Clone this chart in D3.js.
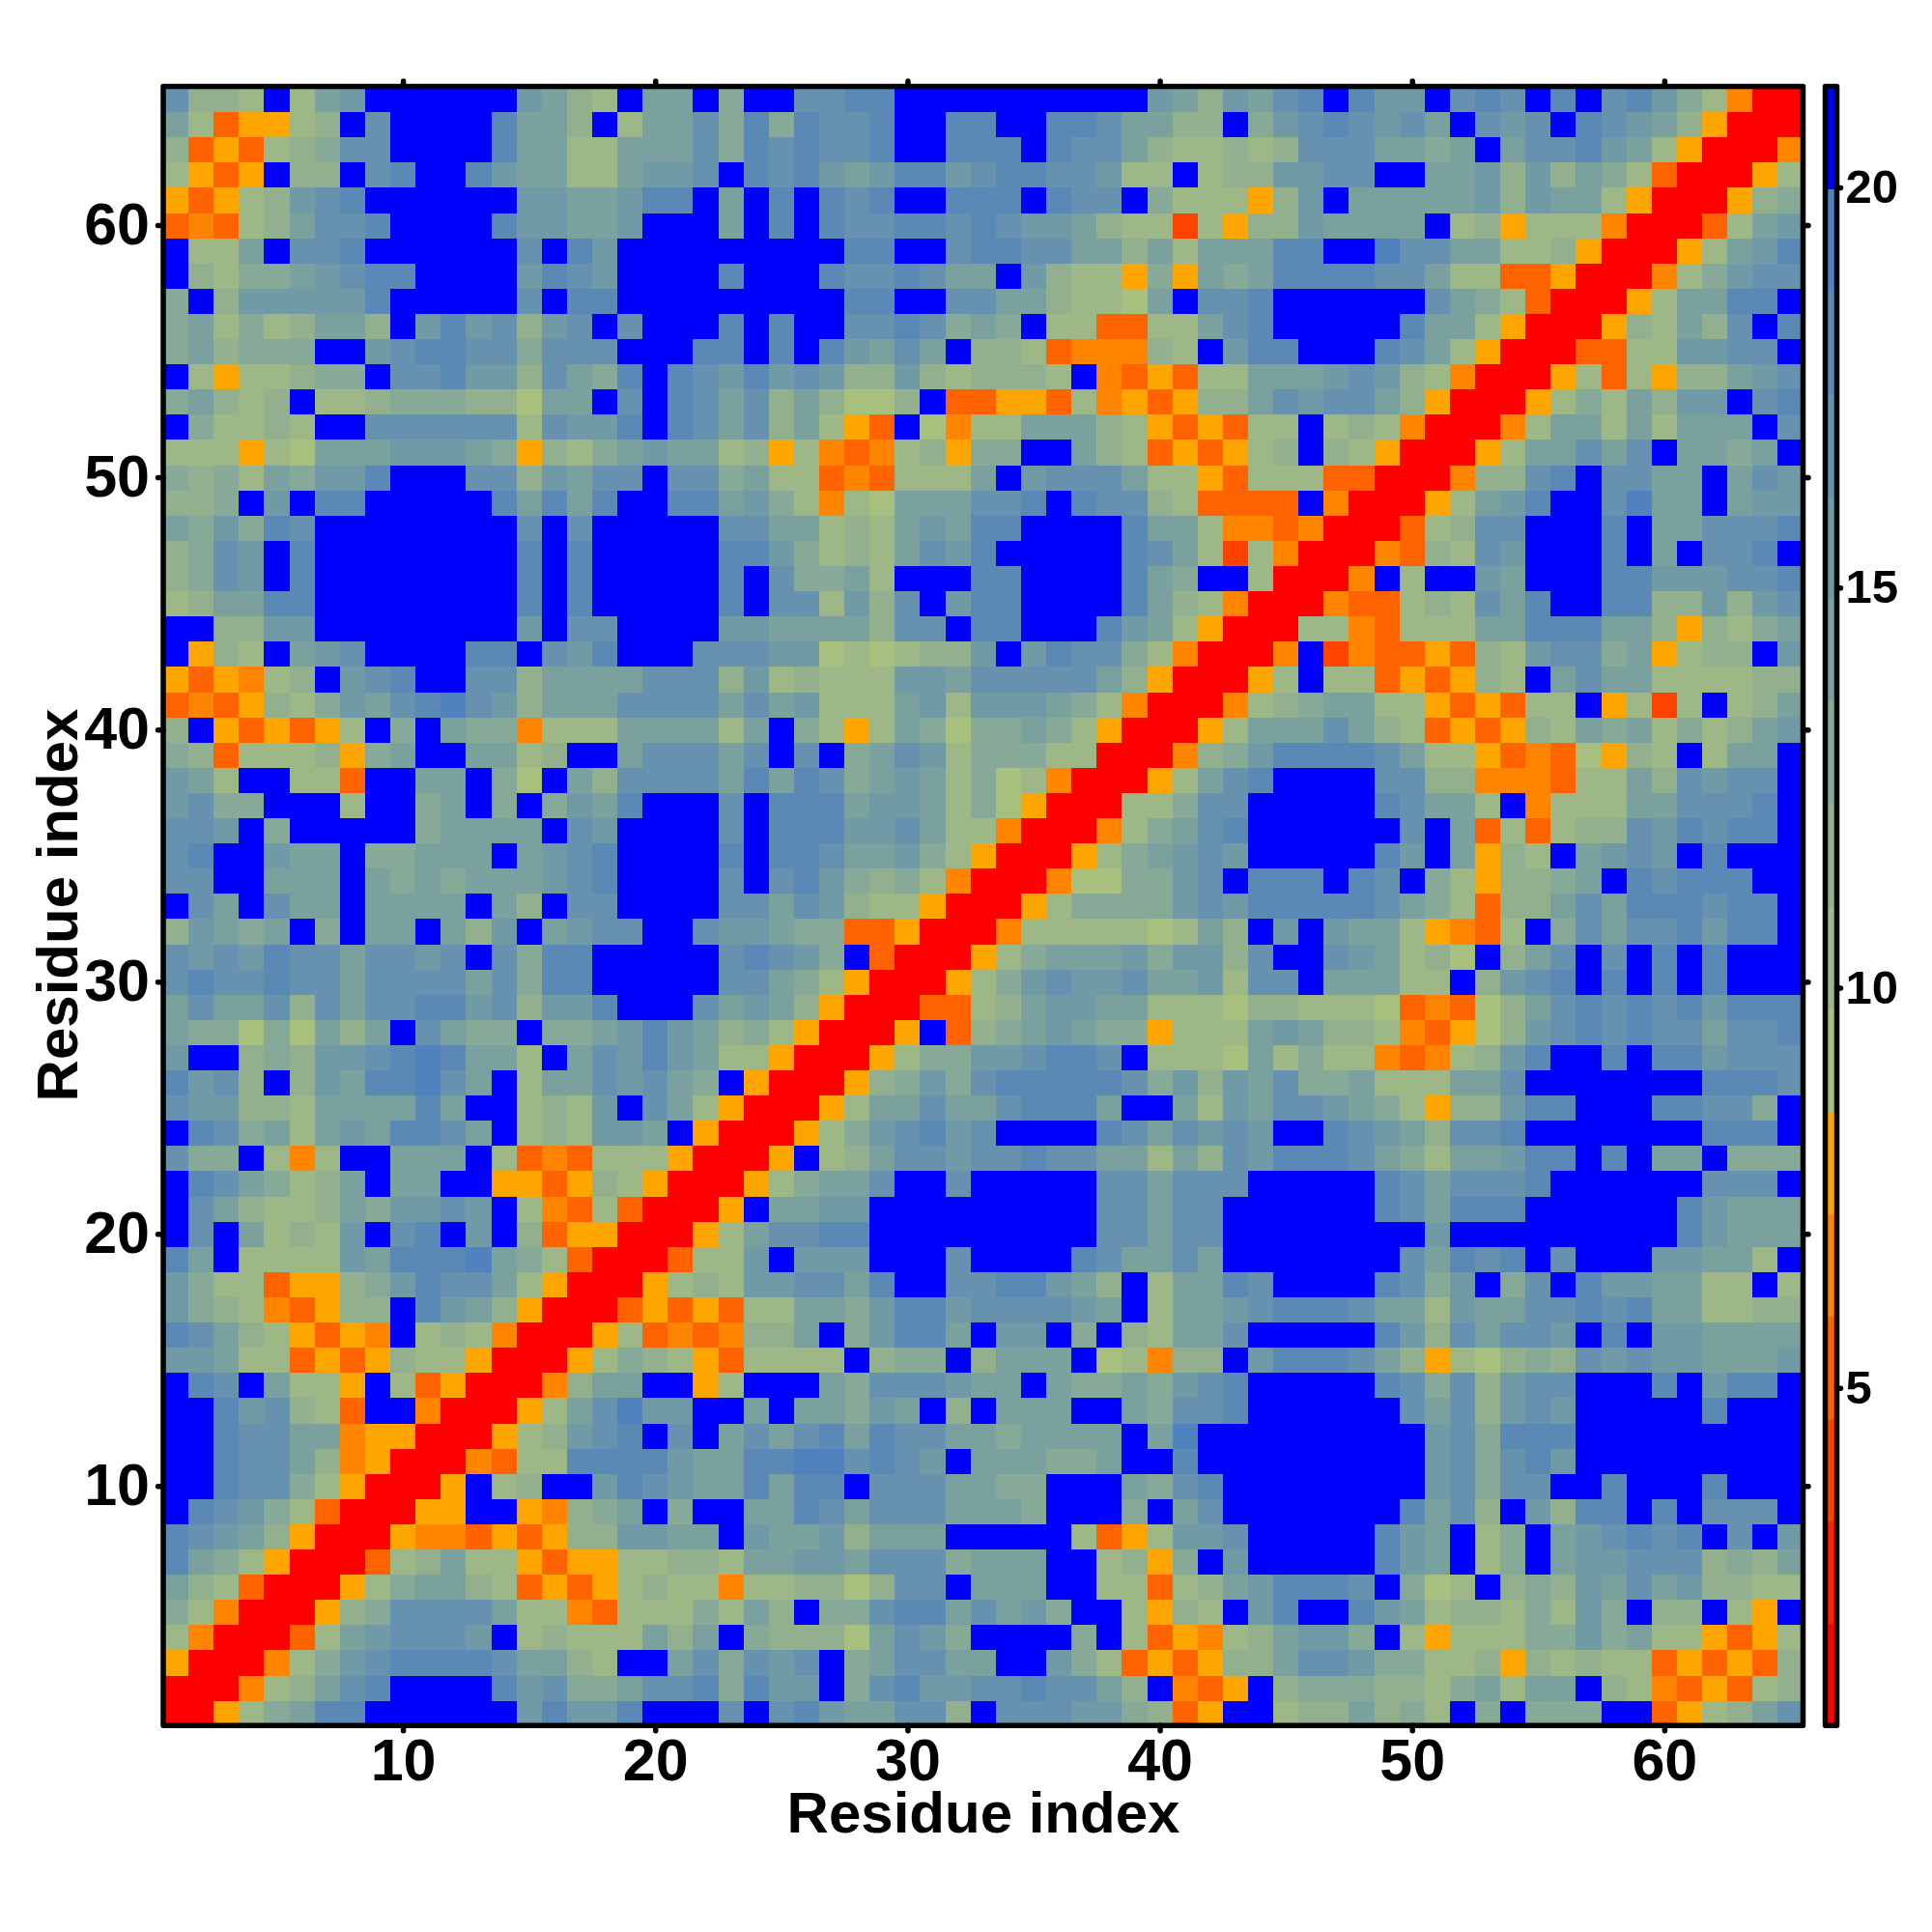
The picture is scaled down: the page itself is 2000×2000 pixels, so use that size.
<!DOCTYPE html>
<html><head><meta charset="utf-8">
<script src="https://d3js.org/d3.v7.min.js"></script>
<style>html,body{margin:0;padding:0;background:#fff}svg{display:block}
text{font-family:"Liberation Sans",Arial,sans-serif;font-weight:bold;fill:#000}</style></head><body>
<svg id="c" width="2000" height="2000"></svg>
<script>
// Distance bin per residue pair (hex digit = bin 0..15), upper triangle: row r lists x = r..65, grouped by decade
const binRows = [
"00579addff ffffbdbbdf ffcfcdbaac c8fcccbb98 35ff788a89 7f9f999ff3 578ac",
"00478acdf fffdbc99ac cd9dbbf9cd bbccdcca8f 435f899988 79a7aaf874 35378",
"00479bcd dddcaa87ff ac9cbcf9ac caaffb9735 3588accb99 7785878773 53538",
"0037abc ccbf78777a 8af98886ac b9ffff9f73 5478abb9f7 577799b9a7 75357",
"00589c ccca774377 797a8f99cd dacab9ff75 87fbdffdba 788797b9f8 8f75f",
"00579 aa87353578 774778868c cfaaaff773 78abdddcf9 67f898baca b8877",
"0037 8a77535577 887aabbacc c9aaaff785 9fbfffffdb af79fabbcc c898a",
"005 44353588bb aafbaab8aa afffff7357 bbcfffffdb af79fabcdc dfcfb",
"00 55ff5489af 9ffaadcacc caaa9fff9f acfffffffd ac8fb8ddfd fcccf",
"0 05f78ffbdc baadaddfcc caa99fffa9 cdffffffff bc9ccffdff fdfff",
"004377dddd baaddeecdc bfaaa99aff dfffffffff bc9cdbffff fffff",
"00578bcdf cfacacdadc caa9aaaafa efffffffff bc9dddffff fffff",
"0057aceb bffafaa9ba f8faaaffa9 ccdffffffc ac8bcbffff fdfff",
"0048aaf f57fffa9cc cbaafa99a9 bcdfffffdc 9c8bccfffd fbddf",
"005798 7537777f89 9f8aaaf674 88fbdddca8 576898cbcb baaab",
"00573 43488af9bd dafbbf9f87 aacfffffdb 8caccbfdfb baaaa",
"0035 35377aa9bd dbccccbaf7 aabcdddcaa 7baaccdcda a7788",
"005 787bbccadf fccddba8f7 aadcffffdc 9bf9cfdbba a77f7",
"00 377bfbbbff fcffffdcaa cafffffffc adcdfcfffb baa7f",
"0 057accddff fffffffcca ccffffffff bfffffffff dbaaa",
"005faabbff fffffffcca ccffffffdc adddffffff dbaaa",
"00579aacf fcfffffcca cccfffffdc acccdfffff fcccf",
"005f78ac cbccdccaa7 a8cbdddca9 7aabddfdfa af999",
"00579bc dbcffffdca cbcbffdcba 8ccdffffff fdddf",
"0057aa caacdddaff a7baccba97 588bddfffd dcc9f",
"00589 b9cdddddc9 b8bac99a77 7aacffffff fdddc",
"0057 99bbcddcf7 776a797743 478bdffdfd dbccc",
"005 f389aba995 777aba8874 3568bcdcdc caccd",
"00 3378abbaa7 7768877763 4368acdcdc dbddd",
"0 0579bcbbca ab7ccfaaa7 7f8bcdfdfd fdfff",
"00579aaab9 bb8cffcba7 86f8acfcfd fdfff",
"004777776 7a8fbfbaa7 5437f9cacc dbddf",
"00579999 bcbdddddca 97388acadd dcddf",
"0046699 bcfdddfdcf 975889afdc dddff",
"00579a bcbfffffdb fa587fabcb fdfff",
"00479 acdffffffc fa373788cb dcddf",
"0077 9ccfffffdc aa7f4777aa cccdf",
"005 7acdffffcc 88444377a8 cbccf",
"00 489bddddca 7753436587 f7aaf",
"0 057aaaca87 353587a9a7 978ab",
"004789aa77 535377f572 7f78a",
"0057f7735 3587facaa7 77788",
"004f2433 5387bcc9a5 788fb",
"0077437 77aadddaa8 5879a",
"004337 87cadffdd8 8b8bc",
"004f7 ffbafffddb bbccd",
"0043 87cbfffdfa fccdf",
"003 78ccfffdfa acccd",
"00 57abdffcea afabb",
"0 0488cdfcca afacb",
"0057aacacf aa9af",
"0047aa7a7 aaafc",
"005797a8 bbfcd",
"0057375 88abc",
"003377 bbccf",
"00587 a8cfd",
"0057 aaddf",
"004 79bcc",
"00 57abd",
"0 037ab",
"00589",
"0057",
"004",
"00",
"0"
];
const binColors = ["#FF0000","#FF2100","#FF4200","#FF6300","#FF8400","#FFA500",
  "#A8C07E","#9DB886","#92B08E","#87A997","#7BA19E","#719AA7","#6691AF","#5B89B6","#5082BE","#0000FF"];
const valueMin = 0.78, valueMax = 21.26;
const axisTicks = [10,20,30,40,50,60];
const barTicks = [5,10,15,20];
const axisTitle = "Residue index";

const nRes = binRows.length;
const binW = (valueMax-valueMin)/binColors.length;
const cells = [];
binRows.forEach((s,i)=>{
  const row = s.replace(/ /g,"");
  if(row.length !== nRes-i) throw new Error("row "+(i+1)+" length "+row.length);
  [...row].forEach((c,k)=>{
    const v = valueMin + binW*(parseInt(c,16)+0.5);
    cells.push({x:i+k+1,y:i+1,v});
    if(k>0) cells.push({x:i+1,y:i+k+1,v});
  });
});

const L=169,R=1866.5,T=89.5,B=1786.3;
const svg=d3.select("#c");
const x=d3.scaleLinear().domain([0.5,65.5]).range([L,R]);
const y=d3.scaleLinear().domain([0.5,65.5]).range([B,T]);
const color=d3.scaleQuantize().domain([valueMin,valueMax]).range(binColors);

svg.append("g").attr("shape-rendering","crispEdges").selectAll("rect").data(cells).join("rect")
  .attr("x",d=>x(d.x-0.5)).attr("y",d=>y(d.y+0.5))
  .attr("width",x(2)-x(1)+0.5).attr("height",y(1)-y(2)+0.5)
  .attr("fill",d=>color(d.v));

function style(g,size){
  g.select(".domain").remove();
  g.selectAll("line").attr("stroke","#000").attr("stroke-width",5.5).attr("stroke-linecap","round");
  g.selectAll("text").style("font-size",size+"px");
}
const tickLen=5.5;
svg.append("g").attr("transform",`translate(0,${B})`)
  .call(d3.axisBottom(x).tickValues(axisTicks).tickSize(tickLen).tickPadding(7.5).tickFormat(d3.format("d")))
  .call(g=>style(g,61));
svg.append("g").attr("transform",`translate(0,${T})`)
  .call(d3.axisTop(x).tickValues(axisTicks).tickSize(tickLen).tickFormat(""))
  .call(g=>style(g,61));
svg.append("g").attr("transform",`translate(${L},0)`)
  .call(d3.axisLeft(y).tickValues(axisTicks).tickSize(tickLen).tickPadding(8.5).tickFormat(d3.format("d")))
  .call(g=>style(g,61));
svg.append("g").attr("transform",`translate(${R},0)`)
  .call(d3.axisRight(y).tickValues(axisTicks).tickSize(tickLen).tickFormat(""))
  .call(g=>style(g,61));
svg.append("rect").attr("x",L).attr("y",T).attr("width",R-L).attr("height",B-T)
  .attr("fill","none").attr("stroke","#000").attr("stroke-width",5.5).attr("stroke-linejoin","round");

svg.append("text").attr("x",1018).attr("y",1897).attr("text-anchor","middle").style("font-size","60px").text(axisTitle);
svg.append("text").attr("transform","translate(80,937) rotate(-90)").attr("text-anchor","middle").style("font-size","60px").text(axisTitle);

// colour bar
const cbL=1889.5,cbR=1901.5;
const cy=d3.scaleLinear().domain([valueMin,valueMax]).range([B,T]);
svg.append("g").attr("shape-rendering","crispEdges").selectAll("rect").data(binColors).join("rect")
  .attr("x",cbL).attr("width",cbR-cbL)
  .attr("y",(d,i)=>cy(valueMin+binW*(i+1))).attr("height",(B-T)/binColors.length+0.5)
  .attr("fill",d=>d);
svg.append("rect").attr("x",cbL).attr("y",T).attr("width",cbR-cbL).attr("height",B-T)
  .attr("fill","none").attr("stroke","#000").attr("stroke-width",5.5).attr("stroke-linejoin","round");
svg.append("g").attr("transform",`translate(${cbR},0)`)
  .call(d3.axisRight(cy).tickValues(barTicks).tickSize(4).tickPadding(5).tickFormat(d3.format("d")))
  .call(g=>style(g,49));
</script></body></html>
